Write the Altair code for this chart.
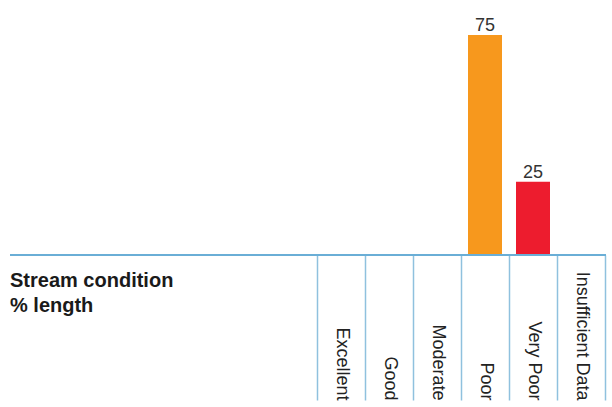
import altair as alt
import pandas as pd

categories = ["Excellent", "Good", "Moderate", "Poor", "Very Poor", "Insufficient Data"]
values = [0, 0, 0, 75, 25, 0]
bar_colors = ["#2B8C3E", "#8DC63F", "#FFD200", "#F7981D", "#ED1C2E", "#BBBBBB"]
title_lines = ["Stream condition", "% length"]

df = pd.DataFrame({"category": categories, "value": values})

FONT = "Liberation Sans"
W, H = 596, 220

x_enc = alt.X(
    "category:N",
    sort=categories,
    scale=alt.Scale(domain=categories, range=[307, 595], paddingInner=0, paddingOuter=0),
    axis=alt.Axis(
        title=None,
        domain=False,
        grid=False,
        tickBand="extent",
        tickSize=145,
        tickColor="#8fc1de",
        tickWidth=1.5,
        labelAngle=90,
        labelAlign="right",
        labelBaseline="middle",
        labelPadding=0,
        labelFontSize=18,
        labelFont=FONT,
        labelColor="#222222",
    ),
)
y_enc = alt.Y("value:Q", scale=alt.Scale(domain=[0, 75], nice=False, zero=True), axis=None)

bars = alt.Chart(df).mark_bar(size=34).encode(
    x=x_enc,
    y=y_enc,
    color=alt.Color("category:N", scale=alt.Scale(domain=categories, range=bar_colors), legend=None),
)

labels = alt.Chart(df).transform_filter("datum.value > 0").mark_text(
    baseline="alphabetic", dy=-4, fontSize=18, font=FONT, color="#333333"
).encode(
    x=alt.X("category:N", sort=categories),
    y=alt.Y("value:Q"),
    text=alt.Text("value:Q"),
)

baseline_rule = alt.Chart(pd.DataFrame({"v": [0]})).mark_rule(
    color="#6aaed6", strokeWidth=2
).encode(y=alt.datum(0), x=alt.value(0), x2=alt.value(W))

title_text = alt.Chart(pd.DataFrame({"v": [0]})).mark_text(
    align="left", baseline="alphabetic", fontSize=20, fontWeight="bold",
    font=FONT, color="#1a1a1a", lineHeight=25
).encode(x=alt.value(0), y=alt.value(252), text=alt.value(title_lines))

chart = alt.layer(bars, labels, baseline_rule, title_text).properties(
    width=W,
    height=H,
    background="white",
    autosize=alt.AutoSizeParams(type="none"),
    padding={"left": 10, "top": 35, "right": 6, "bottom": 152},
).configure_view(strokeWidth=0, stroke="transparent")

chart.save("out.html", embed_options={"renderer": "svg", "actions": False})
